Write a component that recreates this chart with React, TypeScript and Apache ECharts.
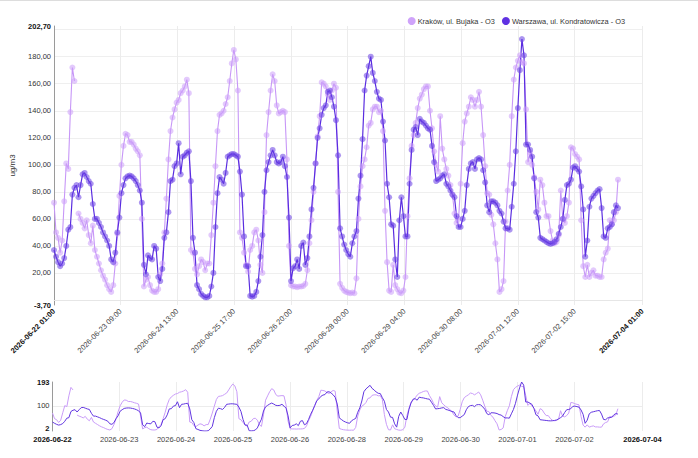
import React, { useEffect, useRef } from "react";
import * as echarts from "echarts";

// Hourly ozone readings; the first point is 2026-06-22 01:00 Warsaw time (UTC+2).
const SERIES_START_UTC = Date.UTC(2026, 5, 21, 23, 0, 0);
const UTC_OFFSET_HOURS = 2;
const AXIS_SPAN_HOURS = 288;
const TICK_STEP_MS = 1e8;
const HOUR_MS = 3600000;

const seriesNames = ["Kraków, ul. Bujaka - O3", "Warszawa, ul. Kondratowicza - O3"];

const krakowO3: (number | null)[] = [
  72, 50, 46, 35, 44, 73, 101, 97, 139, 172,
  162, null, 64, 60, 57, 53, 59, 48, 42, 55,
  37, 32, 27, 22, 18, 15, 11, 8, 6, 11,
  27, 49, 77, 100, 114, 123, 122, 117, 117, 115,
  112, 110, 107, 60, 10, 15, 17, 11, 7, 6,
  6, 8, 19, 27, 50, 75, 104, 125, 135, 141,
  146, 148, 153, 155, 158, 163, 153, 37, 35, 23,
  19, 25, 30, 28, 22, 27, 27, 48, 72, 99,
  125, 137, 138, 140, 145, 150, 162, 175, 185, 178,
  155, 50, 46, 35, 26, 21, 37, 40, 50, 52,
  44, 26, 20, 65, 122, 139, 155, 167, 162, 144,
  138, 139, 140, 139, 104, 40, 11, 10, 10, 9.5,
  10, 10, 10.4, 12, 22, 42, 59, 80, 101, 121,
  136, 161, 160, 158, 152, 148, 155, 160, 157, 80,
  12, 9, 7, 6, 5.5, 5, 5.5, 5, 16, 60,
  84, 99, 104, 113, 129, 131, 141, 143, 143, 139,
  140, 125, 66, 28, 7, 6, 26, 11, 8, 5.5,
  5, 7, 17, 62, 90, 114, 122, 131, 142, 149,
  152, 156, 158, 158, 140, 127, 110, 100, 95, 136,
  112, 104, 97, 92, 85, 78, 64, 57, 60, 86,
  116, 132, 138, 143, 150, 148, 143, 148, 154, 143,
  122, 99, 79, 78, 63, 56, 42, 30, 6, 8,
  14, 58, 81, 100, 136, 163, 172, 177, 181, 176,
  175, 141, 102, 109, 100, 91, 80, 67, 89, 85,
  72, 62, 62, 51, 44, 42, 43, 48, 81, 60,
  57, 62, 72, 113, 112, 108, 106, 104, 59, 25,
  17, 26, 17, 20, 22, 18, 18, 17, 17, 30,
  35, 38, 59, 56, 59, 65, 89,
];

const warszawaO3: number[] = [
  37, 32, 28, 25, 27, 31, 40, 52, 54, 78,
  83, 85, 76, 85, 93, 94, 91, 88, 86, 71,
  60, 60, 57, 54, 50, 47, 44, 40, 30, 28,
  35, 50, 61, 79, 85, 90, 91.5, 92, 91.5, 90,
  88, 85, 81, 72, 26, 19, 33, 31, 30, 40,
  38, 17, 14, 23, 46, 50, 65, 88, 89, 99,
  101, 116, 93, 106, 107, 109, 110, 88, 46, 35,
  11, 8, 4.5, 3, 2, 2, 3, 10, 20, 54,
  79, 91, 89, 86, 94, 106, 107, 108, 108, 107,
  106, 95, 78, 47, 25, 25, 3, 2.5, 3, 6,
  14, 32, 48, 80, 96, 102, 107, 111, 107, 102,
  101, 102, 106, 99, 91, 61, 14, 23.5, 25, 30,
  23, 40, 42.5, 26, 31, 47, 67, 83, 101, 120,
  127, 137, 142, 144, 154, 155, 150, 143, 133, 107,
  53, 47, 41, 37, 34, 32, 42, 47, 51, 75,
  92, 119, 155, 166, 173, 180, 168, 162, 154, 149,
  148, 132, 118, 86, 76, 56, 55, 30, 17, 59,
  76, 62, 47, 47, 86, 111, 126, 128, 122, 134,
  132, 131, 129, 127, 126, 114, 102, 88, 89, 90,
  92, 93, 86, 84, 81, 78, 76, 62, 54, 54,
  60, 66, 85, 97, 101, 102, 97, 104, 105, 104,
  96, 87, 70, 65, 73, 73, 72, 70, 66, 64,
  58, 53, 53, 52, 69, 86, 110, 142, 170, 193,
  181, 115, 115, 111, 106, 90, 65, 61, 46, 45,
  44, 43, 42, 41.5, 42, 43, 45, 49, 54, 60,
  74, 85, 86, 89, 98, 99, 97, 95, 84, 67,
  32, 44, 69, 75, 77, 79, 81, 82, 68, 47,
  46, 53, 54, 56, 65, 70, 68,
];

const mainYMin = -3.7;
const mainYMax = 202.7;
const mainYGridValues = [0, 20, 40, 60, 80, 100, 120, 140, 160, 180, 200];
const mainYLabelValues = [-3.7, 20, 40, 60, 80, 100, 120, 140, 160, 180, 202.7];

const navYMin = 2;
const navYMax = 193;
const navYLabelValues = [2, 100, 193];
const navYGridValues = [100];

const COLOR_KRAKOW = "#c797f7";
const COLOR_KRAKOW_DOT = "rgba(204, 158, 250, 0.55)";
const COLOR_WARSZAWA = "#5a2de0";
const COLOR_WARSZAWA_DOT = "rgba(104, 62, 228, 0.55)";
const FONT = "'Liberation Sans', Arial, sans-serif";

function buildHourTicks(): number[] {
  const endMs = SERIES_START_UTC + AXIS_SPAN_HOURS * HOUR_MS;
  const ticks = [0];
  for (let t = Math.ceil(SERIES_START_UTC / TICK_STEP_MS) * TICK_STEP_MS; t < endMs; t += TICK_STEP_MS) {
    const h = (t - SERIES_START_UTC) / HOUR_MS;
    if (h > 7 && h < AXIS_SPAN_HOURS - 7) ticks.push(h);
  }
  ticks.push(AXIS_SPAN_HOURS);
  return ticks;
}

const pad = (n: number) => String(n).padStart(2, "0");

function stamp(h: number, withTime: boolean): string {
  const d = new Date(SERIES_START_UTC + (h + UTC_OFFSET_HOURS) * HOUR_MS);
  const date = `${d.getUTCFullYear()}-${pad(d.getUTCMonth() + 1)}-${pad(d.getUTCDate())}`;
  return withTime ? `${date} ${pad(d.getUTCHours())}:00` : date;
}

const isEdgeHour = (h: number) => h < 0.01 || h > AXIS_SPAN_HOURS - 0.01;
const plFixed = (v: number) => v.toFixed(2).replace(".", ",");

export default function App() {
  const ref = useRef<HTMLDivElement>(null);

  useEffect(() => {
    if (!ref.current) return;
    const chart = echarts.init(ref.current, undefined, { renderer: "svg" });
    const hourTicks = buildHourTicks();

    const toPoints = (arr: (number | null)[]) =>
      arr.map((v, i) => [i, v == null ? "-" : v]);

    const gridLeft = 52.5;
    const gridRight = 55.5;
    const boldRich = { fontWeight: "bold", fontSize: 7.5, color: "#111", fontFamily: FONT };

    chart.setOption({
      animation: false,
      backgroundColor: "#ffffff",
      textStyle: { fontFamily: FONT },
      legend: {
        top: 12,
        right: 68,
        icon: "circle",
        itemWidth: 8,
        itemHeight: 8,
        itemGap: 7,
        textStyle: { fontSize: 7.4, color: "#333", fontFamily: FONT, padding: [0, 0, 0, -3] },
        data: [
          { name: seriesNames[0], itemStyle: { color: "#cfa3fa" } },
          { name: seriesNames[1], itemStyle: { color: "#5f31e2" } },
        ],
      },
      graphic: [
        {
          type: "line",
          shape: { x1: 0, y1: 0.5, x2: 698, y2: 0.5 },
          style: { stroke: "#dddddd", lineWidth: 1 },
        },
      ],
      grid: [
        { left: gridLeft, right: gridRight, top: 26, bottom: 153 },
        { left: gridLeft, right: gridRight, top: 382, height: 49 },
      ],
      xAxis: [
        {
          type: "value",
          gridIndex: 0,
          min: 0,
          max: AXIS_SPAN_HOURS,
          axisLine: { show: true, lineStyle: { color: "#e6e6e6" } },
          axisTick: { show: false, customValues: hourTicks },
          splitLine: { show: true, lineStyle: { color: "#ececec", width: 1 } },
          axisLabel: {
            customValues: hourTicks,
            rotate: 45,
            margin: 5,
            fontSize: 7.5,
            color: "#444",
            fontFamily: FONT,
            formatter: (v: number) =>
              isEdgeHour(v) ? `{b|${stamp(v, true)}}` : stamp(v, true),
            rich: { b: boldRich },
          },
        },
        {
          type: "value",
          gridIndex: 1,
          min: 0,
          max: AXIS_SPAN_HOURS,
          axisLine: { show: false },
          axisTick: { show: false, customValues: hourTicks },
          splitLine: { show: true, lineStyle: { color: "#ececec", width: 1 } },
          axisLabel: {
            customValues: hourTicks,
            margin: 4,
            fontSize: 7.5,
            color: "#444",
            fontFamily: FONT,
            formatter: (v: number) =>
              isEdgeHour(v) ? `{b|${stamp(v, false)}}` : stamp(v, false),
            rich: { b: boldRich },
          },
        },
      ],
      yAxis: [
        {
          type: "value",
          gridIndex: 0,
          min: mainYMin,
          max: mainYMax,
          name: "ug/m3",
          nameLocation: "middle",
          nameGap: 38,
          nameTextStyle: { fontSize: 8, color: "#333", fontFamily: FONT },
          axisLine: { show: true, lineStyle: { color: "#9a9a9a" } },
          axisTick: { show: false, customValues: mainYGridValues },
          splitLine: { show: true, lineStyle: { color: "#efefef" } },
          axisLabel: {
            customValues: mainYLabelValues,
            margin: 3,
            fontSize: 7.5,
            color: "#333",
            fontFamily: FONT,
            formatter: (v: number) =>
              v === mainYMin || v === mainYMax ? `{b|${plFixed(v)}}` : plFixed(v),
            rich: { b: boldRich },
          },
        },
        {
          type: "value",
          gridIndex: 1,
          min: navYMin,
          max: navYMax,
          axisLine: { show: true, lineStyle: { color: "#9a9a9a" } },
          axisTick: { show: false, customValues: navYGridValues },
          splitLine: { show: true, lineStyle: { color: "#ececec" } },
          axisLabel: {
            customValues: navYLabelValues,
            margin: 3,
            fontSize: 7.5,
            color: "#333",
            fontFamily: FONT,
            formatter: (v: number) =>
              v === navYMin ? `{lo|${v}}` : v === navYMax ? `{b|${v}}` : String(v),
            rich: {
              b: boldRich,
              lo: { ...boldRich, padding: [0, 0, 5, 0] },
            },
          },
        },
      ],
      series: [
        {
          name: seriesNames[0],
          type: "line",
          xAxisIndex: 0,
          yAxisIndex: 0,
          data: toPoints(krakowO3),
          connectNulls: false,
          symbol: "circle",
          symbolSize: 6,
          lineStyle: { color: COLOR_KRAKOW, width: 1.1 },
          itemStyle: { color: COLOR_KRAKOW_DOT, borderWidth: 0 },
          emphasis: { disabled: true },
        },
        {
          name: seriesNames[1],
          type: "line",
          xAxisIndex: 0,
          yAxisIndex: 0,
          data: toPoints(warszawaO3),
          connectNulls: false,
          symbol: "circle",
          symbolSize: 6,
          lineStyle: { color: COLOR_WARSZAWA, width: 1.2 },
          itemStyle: { color: COLOR_WARSZAWA_DOT, borderWidth: 0 },
          emphasis: { disabled: true },
        },
        {
          name: seriesNames[0],
          type: "line",
          xAxisIndex: 1,
          yAxisIndex: 1,
          data: toPoints(krakowO3),
          connectNulls: false,
          showSymbol: false,
          lineStyle: { color: "#c99cf8", width: 1 },
          emphasis: { disabled: true },
        },
        {
          name: seriesNames[1],
          type: "line",
          xAxisIndex: 1,
          yAxisIndex: 1,
          data: toPoints(warszawaO3),
          connectNulls: false,
          showSymbol: false,
          lineStyle: { color: "#6236e0", width: 1 },
          emphasis: { disabled: true },
        },
      ],
    });

    return () => chart.dispose();
  }, []);

  return (
    <div
      ref={ref}
      style={{ position: "absolute", left: 0, top: 0, width: 698, height: 458, background: "#fff" }}
    />
  );
}
